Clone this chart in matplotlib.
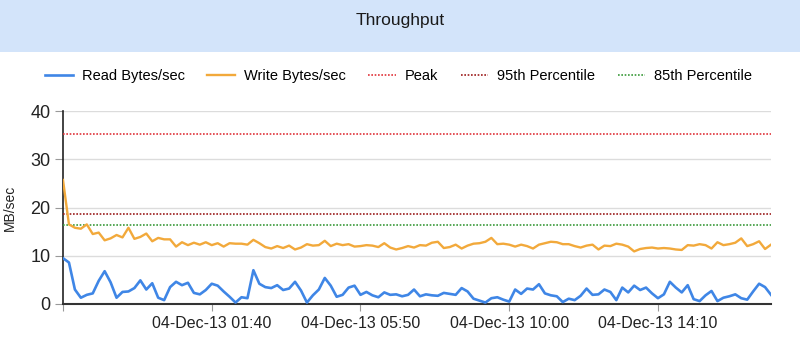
import numpy as np
import pandas as pd
import matplotlib
matplotlib.use('Agg')
import matplotlib.pyplot as plt
import matplotlib.dates as mdates
import matplotlib.patches as mpatches

plt.rcParams['font.family'] = ['Liberation Sans', 'DejaVu Sans']

# Samples every 10 minutes, starting 03-Dec-13 21:30
t_start = '2013-12-03 21:30'
step = '10min'

read_mb = [9.5, 8.6, 3.0, 1.3, 1.9, 2.2, 4.8, 6.8, 4.5, 1.3,
           2.5, 2.6, 3.3, 4.9, 3.0, 4.3, 1.3, 0.8, 3.5, 4.6,
           3.9, 4.4, 2.3, 2.0, 2.9, 4.2, 3.8, 2.6, 1.5, 0.3,
           1.4, 1.2, 7.0, 4.2, 3.5, 3.3, 3.9, 2.9, 3.2, 4.6,
           2.8, 0.3, 1.8, 3.0, 5.4, 3.8, 1.5, 1.9, 3.4, 3.8,
           1.9, 2.5, 1.8, 1.4, 2.4, 1.9, 2.0, 1.6, 1.9, 3.0,
           1.6, 2.0, 1.8, 1.7, 2.3, 2.1, 1.9, 3.3, 2.6, 1.1,
           0.7, 0.3, 1.2, 1.4, 0.9, 0.5, 3.0, 2.1, 3.2, 3.0,
           4.1, 2.2, 1.8, 1.6, 0.4, 1.1, 0.8, 1.7, 3.2, 1.9,
           2.0, 3.0, 2.5, 0.8, 3.4, 2.4, 3.8, 2.9, 3.4, 2.2,
           1.2, 2.0, 4.6, 3.4, 2.4, 3.9, 1.0, 0.6, 1.8, 2.7,
           0.6, 1.3, 1.6, 2.0, 1.2, 0.9, 2.6, 4.2, 3.5, 1.9]

write_mb = [25.7, 16.5, 15.8, 15.6, 16.5, 14.5, 14.8, 13.2, 13.6, 14.3,
            13.8, 15.8, 13.5, 13.9, 14.6, 13.0, 13.7, 13.4, 13.4, 11.9,
            12.8, 12.2, 12.7, 12.3, 12.8, 12.2, 12.6, 11.9, 12.6, 12.5,
            12.5, 12.3, 13.3, 12.6, 11.8, 11.5, 12.0, 11.6, 12.1, 11.3,
            11.7, 12.4, 12.1, 12.2, 13.1, 12.0, 12.5, 12.2, 12.4, 11.9,
            12.0, 12.2, 12.1, 11.8, 12.6, 11.7, 11.3, 11.6, 12.0, 11.7,
            12.2, 12.1, 12.7, 12.9, 11.6, 11.8, 12.3, 11.5, 12.1, 12.5,
            12.6, 12.9, 13.7, 12.4, 12.5, 12.3, 11.9, 12.3, 12.0, 11.5,
            12.3, 12.6, 12.9, 12.8, 12.4, 12.4, 12.0, 11.7, 12.1, 12.3,
            11.3, 12.1, 12.0, 12.5, 12.3, 11.9, 10.9, 11.4, 11.6, 11.7,
            11.5, 11.6, 11.5, 11.3, 11.2, 12.2, 12.1, 12.4, 12.2, 11.5,
            12.8, 12.2, 12.4, 12.7, 13.6, 12.0, 12.4, 13.0, 11.4, 12.3]

peak = 35.2
pct95 = 18.6
pct85 = 16.4

tick_times = ['2013-12-03 21:30', '2013-12-04 01:40', '2013-12-04 05:50',
              '2013-12-04 10:00', '2013-12-04 14:10']
tick_labels = ['', '04-Dec-13 01:40', '04-Dec-13 05:50',
               '04-Dec-13 10:00', '04-Dec-13 14:10']

times = pd.date_range(t_start, periods=len(read_mb), freq=step)

color = {
    'read':  '#3f86e6',
    'write': '#f2a93b',
    'peak':  '#e0333a',
    'p95':   '#9c1c1c',
    'p85':   '#3a9a3a',
    'band':  '#d3e4fa',
    'grid':  '#dcdcdc'
}

fig = plt.figure(figsize=(8, 3.46), dpi=100)

# Title band on top
fig.patches.append(mpatches.Rectangle((0, 1 - 52/346), 1, 52/346, transform=fig.transFigure,
                                      facecolor=color['band'], edgecolor='none', zorder=0))
fig.text(0.5, 1 - 20/346, 'Throughput', ha='center', va='center', fontsize=12.5, color='#1a1a1a')

ax = fig.add_axes([63/800, 42/346, 708/800, 193/346])

ax.plot(times, read_mb, color=color['read'], linewidth=1.9, label='Read Bytes/sec', zorder=4)
ax.plot(times, write_mb, color=color['write'], linewidth=1.7, label='Write Bytes/sec', zorder=4)
ax.axhline(peak, color=color['peak'], linestyle=(0, (1, 1)), linewidth=1.2, label='Peak', zorder=3)
ax.axhline(pct95, color=color['p95'], linestyle=(0, (1, 1)), linewidth=1.2, label='95th Percentile', zorder=3)
ax.axhline(pct85, color=color['p85'], linestyle=(0, (1, 1)), linewidth=1.2, label='85th Percentile', zorder=3)

ax.set_xlim(times[0], times[-1])
ax.set_ylim(0, 40)
ax.set_yticks([0, 10, 20, 30, 40])
ax.yaxis.grid(True, color=color['grid'], linewidth=1)
ax.set_axisbelow(True)

ax.set_xticks(pd.to_datetime(tick_times))
ax.set_xticklabels(tick_labels)
ax.tick_params(axis='x', length=5, color='#999999', labelsize=11.5, pad=4, labelcolor='#222222')
ax.tick_params(axis='y', length=6, color='#999999', labelsize=13, pad=3, labelcolor='#222222')

for s in ['top', 'right']:
    ax.spines[s].set_visible(False)
ax.spines['left'].set_color('#222222')
ax.spines['left'].set_linewidth(1.2)
ax.spines['bottom'].set_color('#333333')
ax.spines['bottom'].set_linewidth(1.5)

ax.set_ylabel('MB/sec', fontsize=10, color='#222222', labelpad=10)

ax.legend(loc='upper center', bbox_to_anchor=(0.474, 1.285), ncol=5, frameon=False,
          fontsize=10.5, handlelength=1.9, columnspacing=1.55, handletextpad=0.6)

fig.savefig('out.png', dpi=100)
